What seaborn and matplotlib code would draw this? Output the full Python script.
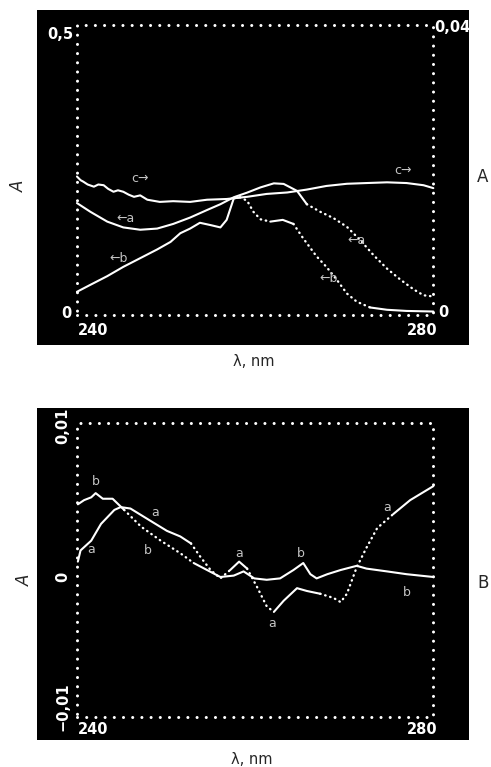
import numpy as np
import matplotlib
matplotlib.use('Agg')
import matplotlib.pyplot as plt
import seaborn as sns

sns.set_theme(style='white')
plt.rcParams['font.family'] = ['DejaVu Sans']

# --- Data ---
# Top panel: absorption spectra, a and b on left axis (0..0.5), c on right axis (0..0.04)
top_a_wl = [240.0, 241.5, 243.4, 245.2, 247.1, 249.0, 250.8, 252.7, 254.6, 256.1, 257.6, 259.1,
            260.6, 262.1, 263.2, 264.7, 265.8, 267.3, 268.8, 270.3, 271.8, 273.3, 274.8, 276.3,
            277.8, 278.9, 280.0]
top_a_abs = [0.193, 0.178, 0.161, 0.151, 0.147, 0.149, 0.157, 0.168, 0.181, 0.191, 0.203, 0.211,
             0.220, 0.227, 0.226, 0.214, 0.191, 0.178, 0.167, 0.152, 0.129, 0.103, 0.080, 0.061,
             0.044, 0.034, 0.032]

top_b_wl = [240.0, 241.5, 243.4, 245.2, 247.1, 249.0, 250.5, 251.6, 252.7, 253.8, 255.0, 256.1,
            256.8, 257.6, 258.3, 259.1, 259.8, 260.6, 261.7, 263.1, 264.3, 265.4, 266.9, 268.0,
            269.2, 270.3, 271.4, 272.9, 274.8, 277.0, 280.0]
top_b_abs = [0.040, 0.052, 0.067, 0.083, 0.098, 0.113, 0.126, 0.141, 0.149, 0.159, 0.155, 0.151,
             0.164, 0.201, 0.203, 0.197, 0.178, 0.165, 0.161, 0.164, 0.157, 0.132, 0.101, 0.083,
             0.060, 0.037, 0.023, 0.013, 0.009, 0.007, 0.006]

top_c_wl = [240.0, 240.4, 240.7, 241.2, 241.9, 242.4, 243.0, 243.5, 244.1, 244.6, 245.2, 245.8,
            246.4, 247.1, 247.9, 249.3, 250.8, 252.7, 254.6, 256.8, 259.1, 261.3, 263.6, 265.8,
            268.0, 270.3, 272.5, 274.8, 277.0, 278.9, 280.0]
top_c_abs = [0.0191, 0.0186, 0.0184, 0.0180, 0.0177, 0.0180, 0.0179, 0.0174, 0.0170, 0.0172,
             0.0170, 0.0166, 0.0163, 0.0165, 0.0159, 0.0156, 0.0157, 0.0156, 0.0159, 0.0160,
             0.0163, 0.0167, 0.0169, 0.0173, 0.0178, 0.0181, 0.0182, 0.0183, 0.0182, 0.0179,
             0.0175]

# Bottom panel: difference spectra (-0.01..0.01)
bot_a_wl = [240.1, 240.4, 241.6, 242.7, 244.2, 244.9, 246.0, 248.3, 250.1, 251.6, 252.8, 253.9,
            255.0, 256.1, 257.2, 258.2, 259.1, 260.2, 261.3, 262.1, 263.2, 264.7, 265.8, 267.3,
            268.8, 269.6, 270.3, 271.4, 272.5, 273.7, 275.5, 277.4, 280.0]
bot_a_abs = [0.0011, 0.0019, 0.0026, 0.0038, 0.0048, 0.0050, 0.0049, 0.0040, 0.0033, 0.0029,
             0.0024, 0.0014, 0.0005, -0.0001, 0.0005, 0.0011, 0.0006, -0.0007, -0.0021, -0.0025,
             -0.0017, -0.0008, -0.0010, -0.0012, -0.0015, -0.0018, -0.0012, 0.0007, 0.0021,
             0.0035, 0.0045, 0.0055, 0.0065]

bot_b_wl = [240.1, 240.8, 241.6, 242.1, 242.9, 244.0, 245.3, 247.2, 249.4, 251.6, 253.1, 254.6,
            256.1, 257.6, 258.7, 259.9, 261.3, 262.8, 264.3, 265.4, 266.2, 266.9, 268.1, 269.6,
            271.4, 272.5, 274.8, 277.0, 280.0]
bot_b_abs = [0.0052, 0.0055, 0.0057, 0.0060, 0.0056, 0.0056, 0.0048, 0.0036, 0.0026, 0.0017,
             0.0010, 0.0005, 0.0000, 0.0001, 0.0004, -0.0001, -0.0002, -0.0001, 0.0005, 0.0010,
             0.0002, -0.0001, 0.0002, 0.0005, 0.0008, 0.0006, 0.0004, 0.0002, 0.0000]

WL_MIN, WL_MAX = 240, 280
TOP_MAX, TOP_RIGHT_MAX = 0.5, 0.04
BOT_MIN, BOT_MAX = -0.01, 0.011

LABEL_GREY = '#c4c4c4'


def draw_trace(ax, wl, val, dotted=()):
    # the scanned traces are partly solid, partly dotted (sampled points)
    wl = np.asarray(wl)
    val = np.asarray(val)
    mask = np.zeros(len(wl), dtype=bool)
    for lo, hi in dotted:
        mask |= (wl >= lo) & (wl <= hi)
    start = 0
    for i in range(1, len(wl) + 1):
        if i == len(wl) or mask[i] != mask[start]:
            end = min(i + 1, len(wl))
            seg = slice(start, end)
            if mask[start]:
                sns.lineplot(x=wl[seg], y=val[seg], ax=ax, color='white', lw=1.7,
                             linestyle=(0, (0.2, 2.0)), dash_capstyle='round', sort=False)
            else:
                sns.lineplot(x=wl[seg], y=val[seg], ax=ax, color='white', lw=1.5, sort=False)
            start = i


def dotted_frame(ax, ymin, ymax):
    ax.plot([WL_MIN, WL_MAX, WL_MAX, WL_MIN, WL_MIN], [ymin, ymin, ymax, ymax, ymin],
            color='white', lw=2.2, linestyle=(0, (0.01, 3.0)), dash_capstyle='round')


fig = plt.figure(figsize=(4.91, 7.67), dpi=100)

# --- Top panel ---
ax1 = fig.add_axes([37 / 491, 1 - 345 / 767, 432 / 491, 335 / 767])
ax1.set_facecolor('black')
px_nm = 356.7 / 40
ax1.set_xlim(WL_MIN - 40 / px_nm, WL_MAX + 35.7 / px_nm)
ax1.set_ylim(-30 / 580, TOP_MAX + 15 / 580)
ax2 = ax1.twinx()
lo, hi = ax1.get_ylim()
ax2.set_ylim(lo * TOP_RIGHT_MAX / TOP_MAX, hi * TOP_RIGHT_MAX / TOP_MAX)

dotted_frame(ax1, 0, TOP_MAX)
draw_trace(ax1, top_a_wl, top_a_abs, dotted=[(265.0, 280.0)])
draw_trace(ax1, top_b_wl, top_b_abs, dotted=[(258.3, 260.6), (264.3, 272.0)])
draw_trace(ax2, top_c_wl, top_c_abs)

bold = dict(color='white', fontsize=10.5, fontweight='bold')
ax1.text(239.6, 0.484, '0,5', ha='right', va='center', **bold)
ax1.text(239.4, 0.003, '0', ha='right', va='center', **bold)
ax1.text(240.1, -0.026, '240', ha='left', va='center', **bold)
ax1.text(280.5, -0.026, '280', ha='right', va='center', **bold)
ax1.text(280.1, 0.495, '0,04', ha='left', va='center', **bold)
ax1.text(280.5, 0.005, '0', ha='left', va='center', **bold)

lab = dict(color=LABEL_GREY, fontsize=9, ha='center', va='center')
ax1.text(247.1, 0.236, 'c\u2192', **lab)
ax1.text(276.6, 0.250, 'c\u2192', **lab)
ax1.text(245.4, 0.167, '\u2190a', **lab)
ax1.text(244.7, 0.098, '\u2190b', **lab)
ax1.text(271.4, 0.128, '\u2190a', **lab)
ax1.text(268.2, 0.063, '\u2190b', **lab)

# --- Bottom panel ---
ax3 = fig.add_axes([37 / 491, 1 - 740 / 767, 432 / 491, 332 / 767])
ax3.set_facecolor('black')
px_unit = 14000
ax3.set_xlim(WL_MIN - 40 / px_nm, WL_MAX + 35.7 / px_nm)
ax3.set_ylim(BOT_MIN - 23.3 / px_unit, BOT_MAX + 15.3 / px_unit)

dotted_frame(ax3, BOT_MIN, BOT_MAX)
draw_trace(ax3, bot_a_wl, bot_a_abs, dotted=[(252.8, 256.1), (259.1, 261.3), (267.3, 273.7)])
draw_trace(ax3, bot_b_wl, bot_b_abs, dotted=[(245.3, 251.6)])

ax3.text(238.4, 0.0108, '0,01', rotation=90, ha='center', va='center', **bold)
ax3.text(238.4, 0.0, '0', rotation=90, ha='center', va='center', **bold)
ax3.text(238.4, -0.0093, '\u22120,01', rotation=90, ha='center', va='center', **bold)
ax3.text(240.1, -0.0109, '240', ha='left', va='center', **bold)
ax3.text(280.5, -0.0109, '280', ha='right', va='center', **bold)

for txt, x, y in [('b', 242.1, 0.0068), ('a', 248.8, 0.0046), ('a', 241.6, 0.0020),
                  ('b', 247.9, 0.0019), ('a', 258.2, 0.0017), ('b', 265.1, 0.0017),
                  ('a', 261.9, -0.0033), ('a', 274.8, 0.0050), ('b', 277.0, -0.0011)]:
    ax3.text(x, y, txt, **lab)

for ax in (ax1, ax2, ax3):
    ax.set_xticks([])
    ax.set_yticks([])
    ax.set_xlabel('')
    ax.set_ylabel('')
    for s in ax.spines.values():
        s.set_visible(False)

# outer labels
fig.text(254 / 491, 1 - 362 / 767, '\u03bb, nm', ha='center', va='center', fontsize=10.5)
fig.text(252 / 491, 1 - 760 / 767, '\u03bb, nm', ha='center', va='center', fontsize=10.5)
fig.text(19 / 491, 1 - 186 / 767, 'A', rotation=90, style='italic', ha='center', va='center', fontsize=12)
fig.text(25 / 491, 1 - 580 / 767, 'A', rotation=90, style='italic', ha='center', va='center', fontsize=12)
fig.text(477 / 491, 1 - 177 / 767, 'A', ha='left', va='center', fontsize=12)
fig.text(477 / 491, 1 - 583 / 767, 'B', ha='left', va='center', fontsize=12)

fig.savefig('out.png', dpi=100, facecolor='white')
